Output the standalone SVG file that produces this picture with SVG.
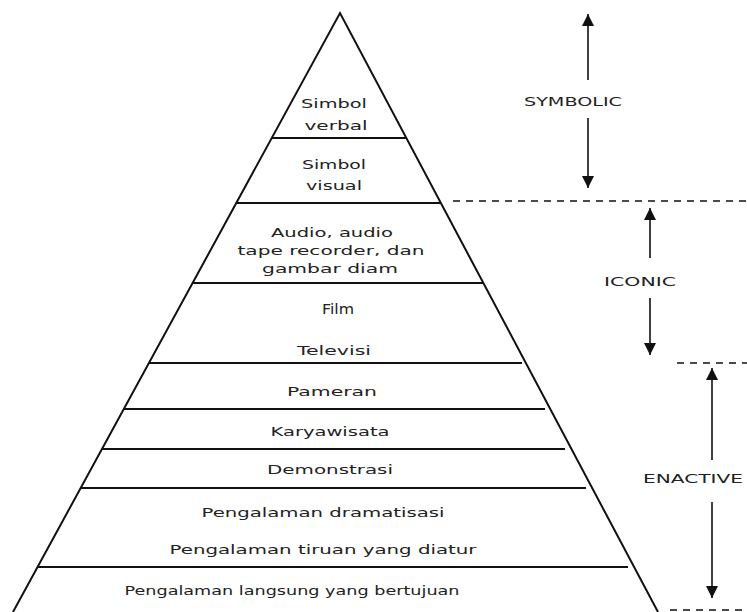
<svg xmlns="http://www.w3.org/2000/svg" width="747" height="612" viewBox="0 0 747 612">
  <style>
    .edge { fill: none; stroke: #111; stroke-width: 2; stroke-linejoin: miter; }
    .tier { stroke: #111; stroke-width: 1.8; }
    .lbl { font-family: "DejaVu Sans", "Liberation Sans", sans-serif; font-size: 12.5px; fill: #222; text-anchor: middle; }
    .stage { font-family: "DejaVu Sans", "Liberation Sans", sans-serif; font-size: 12px; fill: #222; text-anchor: middle; }
    .arrow { stroke: #111; stroke-width: 1.6; fill: none; marker-end: url(#tip); }
    .dash { stroke: #111; stroke-width: 1.6; stroke-dasharray: 7 6; fill: none; }
  </style>
  <defs>
    <marker id="tip" markerUnits="userSpaceOnUse" markerWidth="12" markerHeight="13" refX="12" refY="6" orient="auto" viewBox="0 0 12 12">
      <path d="M0,0 L12,6 L0,12 Z" fill="#111"/>
    </marker>
  </defs>
  <rect width="747" height="612" fill="#ffffff"/>

  <g id="pyramid">
    <polyline class="edge" points="13,612 340,13 658,612"/>
    <line class="tier" x1="272" y1="138" x2="406" y2="138"/>
    <line class="tier" x1="236" y1="203" x2="441" y2="203"/>
    <line class="tier" x1="193" y1="283" x2="483" y2="283"/>
    <line class="tier" x1="149" y1="363" x2="522" y2="363"/>
    <line class="tier" x1="124" y1="409" x2="545" y2="409"/>
    <line class="tier" x1="102" y1="449" x2="565" y2="449"/>
    <line class="tier" x1="81" y1="488" x2="586" y2="488"/>
    <line class="tier" x1="38" y1="567" x2="628" y2="567"/>
  </g>

  <g id="simbol-verbal">
    <text class="lbl" x="334" y="108" textLength="66" lengthAdjust="spacingAndGlyphs">Simbol</text>
    <text class="lbl" x="336" y="130" textLength="63" lengthAdjust="spacingAndGlyphs">verbal</text>
  </g>
  <g id="simbol-visual">
    <text class="lbl" x="334" y="169" textLength="64" lengthAdjust="spacingAndGlyphs">Simbol</text>
    <text class="lbl" x="334" y="190" textLength="56" lengthAdjust="spacingAndGlyphs">visual</text>
  </g>
  <g id="audio">
    <text class="lbl" x="332" y="237" textLength="122" lengthAdjust="spacingAndGlyphs">Audio, audio</text>
    <text class="lbl" x="331" y="255" textLength="187" lengthAdjust="spacingAndGlyphs">tape recorder, dan</text>
    <text class="lbl" x="330" y="273" textLength="136" lengthAdjust="spacingAndGlyphs">gambar diam</text>
  </g>
  <g id="film-televisi">
    <text class="lbl" x="338" y="314" style="font-size:13.5px" textLength="32" lengthAdjust="spacingAndGlyphs">Film</text>
    <text class="lbl" x="334" y="355" textLength="74" lengthAdjust="spacingAndGlyphs">Televisi</text>
  </g>
  <g id="pameran">
    <text class="lbl" x="332" y="396" textLength="90" lengthAdjust="spacingAndGlyphs">Pameran</text>
  </g>
  <g id="karyawisata">
    <text class="lbl" x="330" y="436" textLength="119" lengthAdjust="spacingAndGlyphs">Karyawisata</text>
  </g>
  <g id="demonstrasi">
    <text class="lbl" x="330" y="474" textLength="126" lengthAdjust="spacingAndGlyphs">Demonstrasi</text>
  </g>
  <g id="dramatisasi-tiruan">
    <text class="lbl" x="323" y="517" textLength="243" lengthAdjust="spacingAndGlyphs">Pengalaman dramatisasi</text>
    <text class="lbl" x="323" y="554" textLength="307" lengthAdjust="spacingAndGlyphs">Pengalaman tiruan yang diatur</text>
  </g>
  <g id="langsung">
    <text class="lbl" x="292" y="595" textLength="335" lengthAdjust="spacingAndGlyphs">Pengalaman langsung yang bertujuan</text>
  </g>

  <g id="symbolic">
    <text class="stage" x="573" y="106" textLength="98" lengthAdjust="spacingAndGlyphs">SYMBOLIC</text>
  </g>
  <g id="iconic">
    <text class="stage" x="640" y="286" textLength="72" lengthAdjust="spacingAndGlyphs">ICONIC</text>
  </g>
  <g id="enactive">
    <text class="stage" x="693" y="483" textLength="100" lengthAdjust="spacingAndGlyphs">ENACTIVE</text>
  </g>

  <g id="connectors">
    <line class="arrow" x1="588" y1="80" x2="588" y2="14"/>
    <line class="arrow" x1="588" y1="118" x2="588" y2="188"/>
    <line class="arrow" x1="650" y1="258" x2="650" y2="208"/>
    <line class="arrow" x1="650" y1="298" x2="650" y2="355"/>
    <line class="arrow" x1="712" y1="460" x2="712" y2="368"/>
    <line class="arrow" x1="712" y1="502" x2="712" y2="598"/>
    <line class="dash" x1="453" y1="201" x2="747" y2="201"/>
    <line class="dash" x1="677" y1="363" x2="747" y2="363"/>
    <line class="dash" x1="670" y1="610" x2="747" y2="610"/>
  </g>
</svg>
